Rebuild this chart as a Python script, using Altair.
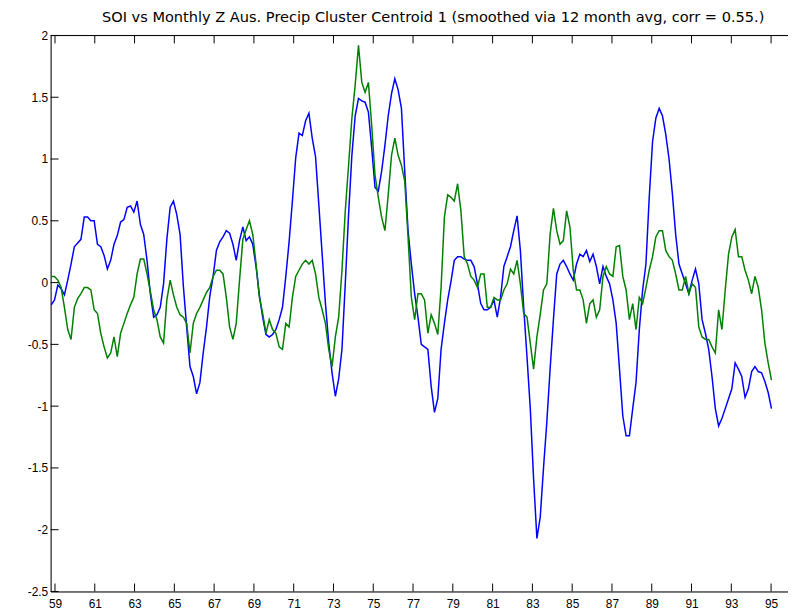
import altair as alt
import pandas as pd

T0 = 58.81          # first sample (years since 1900)
STEP = 0.1661       # sampling step in years

soi = [
    -0.18, -0.14, -0.02, -0.05, -0.10, 0.02, 0.15, 0.29, 0.32, 0.35,
    0.53, 0.53, 0.50, 0.50, 0.31, 0.29, 0.22, 0.11, 0.18, 0.31,
    0.38, 0.49, 0.51, 0.61, 0.62, 0.57, 0.66, 0.47, 0.39, 0.18,
    -0.09, -0.28, -0.26, -0.20, -0.01, 0.35, 0.61,
    0.66, 0.55, 0.39, -0.03, -0.36, -0.68, -0.76, -0.90, -0.81, -0.57,
    -0.36, -0.11, 0.05, 0.26, 0.33, 0.37, 0.42, 0.40, 0.31, 0.18,
    0.34, 0.45, 0.34, 0.37, 0.31, 0.13, -0.10, -0.28, -0.42, -0.44,
    -0.42, -0.38, -0.30, -0.20, 0.05, 0.33,
    0.66, 1.01, 1.21, 1.19, 1.31, 1.37, 1.17, 1.02, 0.63, 0.23,
    -0.17, -0.49, -0.73, -0.92, -0.78, -0.54, -0.01, 0.55, 1.03, 1.35,
    1.49, 1.47, 1.46, 1.38, 1.09, 0.77, 0.74, 0.90, 1.11, 1.35,
    1.53, 1.65, 1.56, 1.41, 0.90, 0.42, 0.15,
    -0.09,
    -0.28, -0.50, -0.52, -0.54, -0.84, -1.05, -0.94, -0.54, -0.33, -0.14,
    0.01, 0.18, 0.21, 0.21, 0.19, 0.18, 0.18, 0.13, -0.01, -0.17,
    -0.22, -0.22, -0.20, -0.14, -0.28, -0.12, 0.13, 0.21, 0.29, 0.42,
    0.54, 0.26, -0.20, -0.60, -1.02, -1.59, -2.07,
    -1.90, -1.50, -1.13, -0.70, -0.30, 0.07, 0.15,
    0.18, 0.13, 0.07, 0.02, 0.15, 0.23, 0.21, 0.26, 0.17, 0.23,
    0.13, -0.01, 0.13, 0.05, -0.01, -0.14, -0.33, -0.70, -1.08, -1.24,
    -1.24, -1.02, -0.81, -0.38, -0.06, 0.15, 0.69, 1.14, 1.33, 1.41,
    1.35,
    1.20, 1.00, 0.72, 0.39, 0.15, 0.07, -0.01, -0.09, 0.02, 0.11,
    -0.01, -0.30, -0.41, -0.54, -0.76, -1.02, -1.16, -1.10, -1.02, -0.94,
    -0.86, -0.65, -0.70, -0.76, -0.93, -0.86, -0.72, -0.68, -0.72, -0.73,
    -0.80, -0.89, -1.02,
]

precip = [
    0.05, 0.05, 0.02, -0.04, -0.20, -0.38, -0.46, -0.20, -0.13, -0.09,
    -0.04, -0.04, -0.06, -0.22, -0.25, -0.41, -0.52, -0.61, -0.57, -0.44,
    -0.60, -0.41, -0.33, -0.25, -0.18, -0.12, 0.07, 0.19, 0.19, 0.07,
    -0.07, -0.22, -0.30, -0.44, -0.49, -0.14, 0.02,
    -0.10, -0.20, -0.26, -0.28, -0.33, -0.57, -0.33, -0.25, -0.20, -0.14,
    -0.08, -0.04, 0.05, 0.10, 0.10, 0.07, -0.12, -0.36, -0.46, -0.33,
    0.02, 0.35, 0.43, 0.50, 0.39, 0.15, -0.12, -0.25, -0.41, -0.30,
    -0.38, -0.41, -0.52, -0.54, -0.33, -0.36,
    -0.12, 0.05, 0.10, 0.15, 0.18, 0.15, 0.18, 0.07, -0.12, -0.22,
    -0.33, -0.54, -0.68, -0.44, -0.28, 0.10, 0.58, 0.95, 1.33, 1.60,
    1.92, 1.62, 1.54, 1.62, 1.27, 0.87, 0.69, 0.53, 0.42, 0.71,
    1.03, 1.17, 1.03, 0.95, 0.82, 0.37, -0.12,
    -0.30,
    -0.09, -0.09, -0.14, -0.41, -0.26, -0.33, -0.42, -0.04, 0.53, 0.71,
    0.69, 0.66, 0.80, 0.58, 0.21, 0.15, 0.05, 0.02, -0.04, 0.07,
    0.07, -0.20, -0.20, -0.12, -0.14, -0.14, -0.06, -0.01, 0.11, 0.07,
    0.18, -0.01, -0.25, -0.28, -0.49, -0.70, -0.44,
    -0.26, -0.06, -0.01, 0.39, 0.60, 0.42, 0.31,
    0.34, 0.58, 0.45, 0.10, -0.06, -0.06, -0.14, -0.33, -0.17, -0.14,
    -0.28, -0.22, 0.05, 0.13, 0.07, 0.05, 0.29, 0.30, 0.05, -0.06,
    -0.30, -0.17, -0.38, -0.12, -0.17, -0.04, 0.10, 0.21, 0.37, 0.42,
    0.42,
    0.26, 0.21, 0.18, 0.07, -0.06, -0.06, 0.05, -0.09, -0.01, -0.04,
    -0.36, -0.44, -0.46, -0.46, -0.52, -0.57, -0.22, -0.38, -0.06, 0.23,
    0.37, 0.43, 0.21, 0.21, 0.10, 0.02, -0.09, 0.05, -0.04, -0.22,
    -0.49, -0.65, -0.79,
]

x_ticks = [59, 61, 63, 65, 67, 69, 71, 73, 75, 77, 79, 81, 83, 85, 87, 89, 91, 93, 95]
y_ticks = [-2.5, -2, -1.5, -1, -0.5, 0, 0.5, 1, 1.5, 2]

TITLE = "SOI vs Monthly Z Aus. Precip Cluster Centroid 1 (smoothed via 12 month avg, corr = 0.55.)"

# ---- build table ----
rows = []
for i, v in enumerate(soi):
    rows.append({"t": T0 + i * STEP, "v": v, "s": "SOI", "o": 0})
for i, v in enumerate(precip):
    rows.append({"t": T0 + i * STEP, "v": v, "s": "Precip", "o": 1})
df = pd.DataFrame(rows)

W, H = 744, 561
xscale = alt.Scale(domain=[58.78, 95.85], nice=False, zero=False)
yscale = alt.Scale(domain=[-2.5, 2], nice=False, zero=False)
FONT = "Liberation Sans"

xaxis = alt.Axis(values=x_ticks, labelExpr="'' + datum.value", ticks=False, title=None,
                 grid=False, domain=True, domainColor="black", domainWidth=1,
                 labelFont=FONT, labelFontSize=12, labelColor="black",
                 labelPadding=7, labelFlush=False, labelOverlap=False)
yaxis = alt.Axis(values=y_ticks, labelExpr="'' + datum.value", ticks=False, title=None,
                 grid=False, domain=True, domainColor="black", domainWidth=1,
                 labelFont=FONT, labelFontSize=12, labelColor="black",
                 labelPadding=3, labelFlush=False, labelOverlap=False)

lines = alt.Chart(df).mark_line(strokeWidth=1.5, interpolate="linear").encode(
    x=alt.X("t:Q", scale=xscale, axis=xaxis),
    y=alt.Y("v:Q", scale=yscale, axis=yaxis),
    color=alt.Color("s:N", scale=alt.Scale(domain=["SOI", "Precip"], range=["#0000ff", "#008000"]),
                    legend=None),
    detail="s:N",
    order="o:Q",
)

xt_df = pd.DataFrame({"xt": x_ticks})
yt_df = pd.DataFrame({"yt": y_ticks})

bottom_ticks = alt.Chart(xt_df).mark_rule(color="black", strokeWidth=1).encode(
    x=alt.X("xt:Q", scale=xscale, axis=xaxis),
    y=alt.value(H - 8), y2=alt.value(H),
)
top_ticks = alt.Chart(xt_df).mark_rule(color="black", strokeWidth=1).encode(
    x=alt.X("xt:Q", scale=xscale, axis=xaxis),
    y=alt.value(0), y2=alt.value(8),
)
left_ticks = alt.Chart(yt_df).mark_rule(color="black", strokeWidth=1).encode(
    y=alt.Y("yt:Q", scale=yscale, axis=yaxis),
    x=alt.value(0), x2=alt.value(8),
)
top_border = alt.Chart(pd.DataFrame({"a": [0]})).mark_rule(color="black", strokeWidth=1).encode(
    x=alt.value(0), x2=alt.value(W), y=alt.value(0),
)

chart = alt.layer(lines, bottom_ticks, top_ticks, left_ticks, top_border).properties(
    width=W, height=H,
    title=alt.TitleParams(TITLE, font="DejaVu Sans", fontSize=14.7, fontWeight="normal",
                          color="black", anchor="middle", dx=14, offset=5),
    autosize=alt.AutoSizeParams(type="none"),
    padding={"left": 43, "top": 25, "right": 0, "bottom": 20},
).configure_view(stroke=None).configure(background="white")

chart.save("out.html", embed_options={"renderer": "svg", "actions": False})
